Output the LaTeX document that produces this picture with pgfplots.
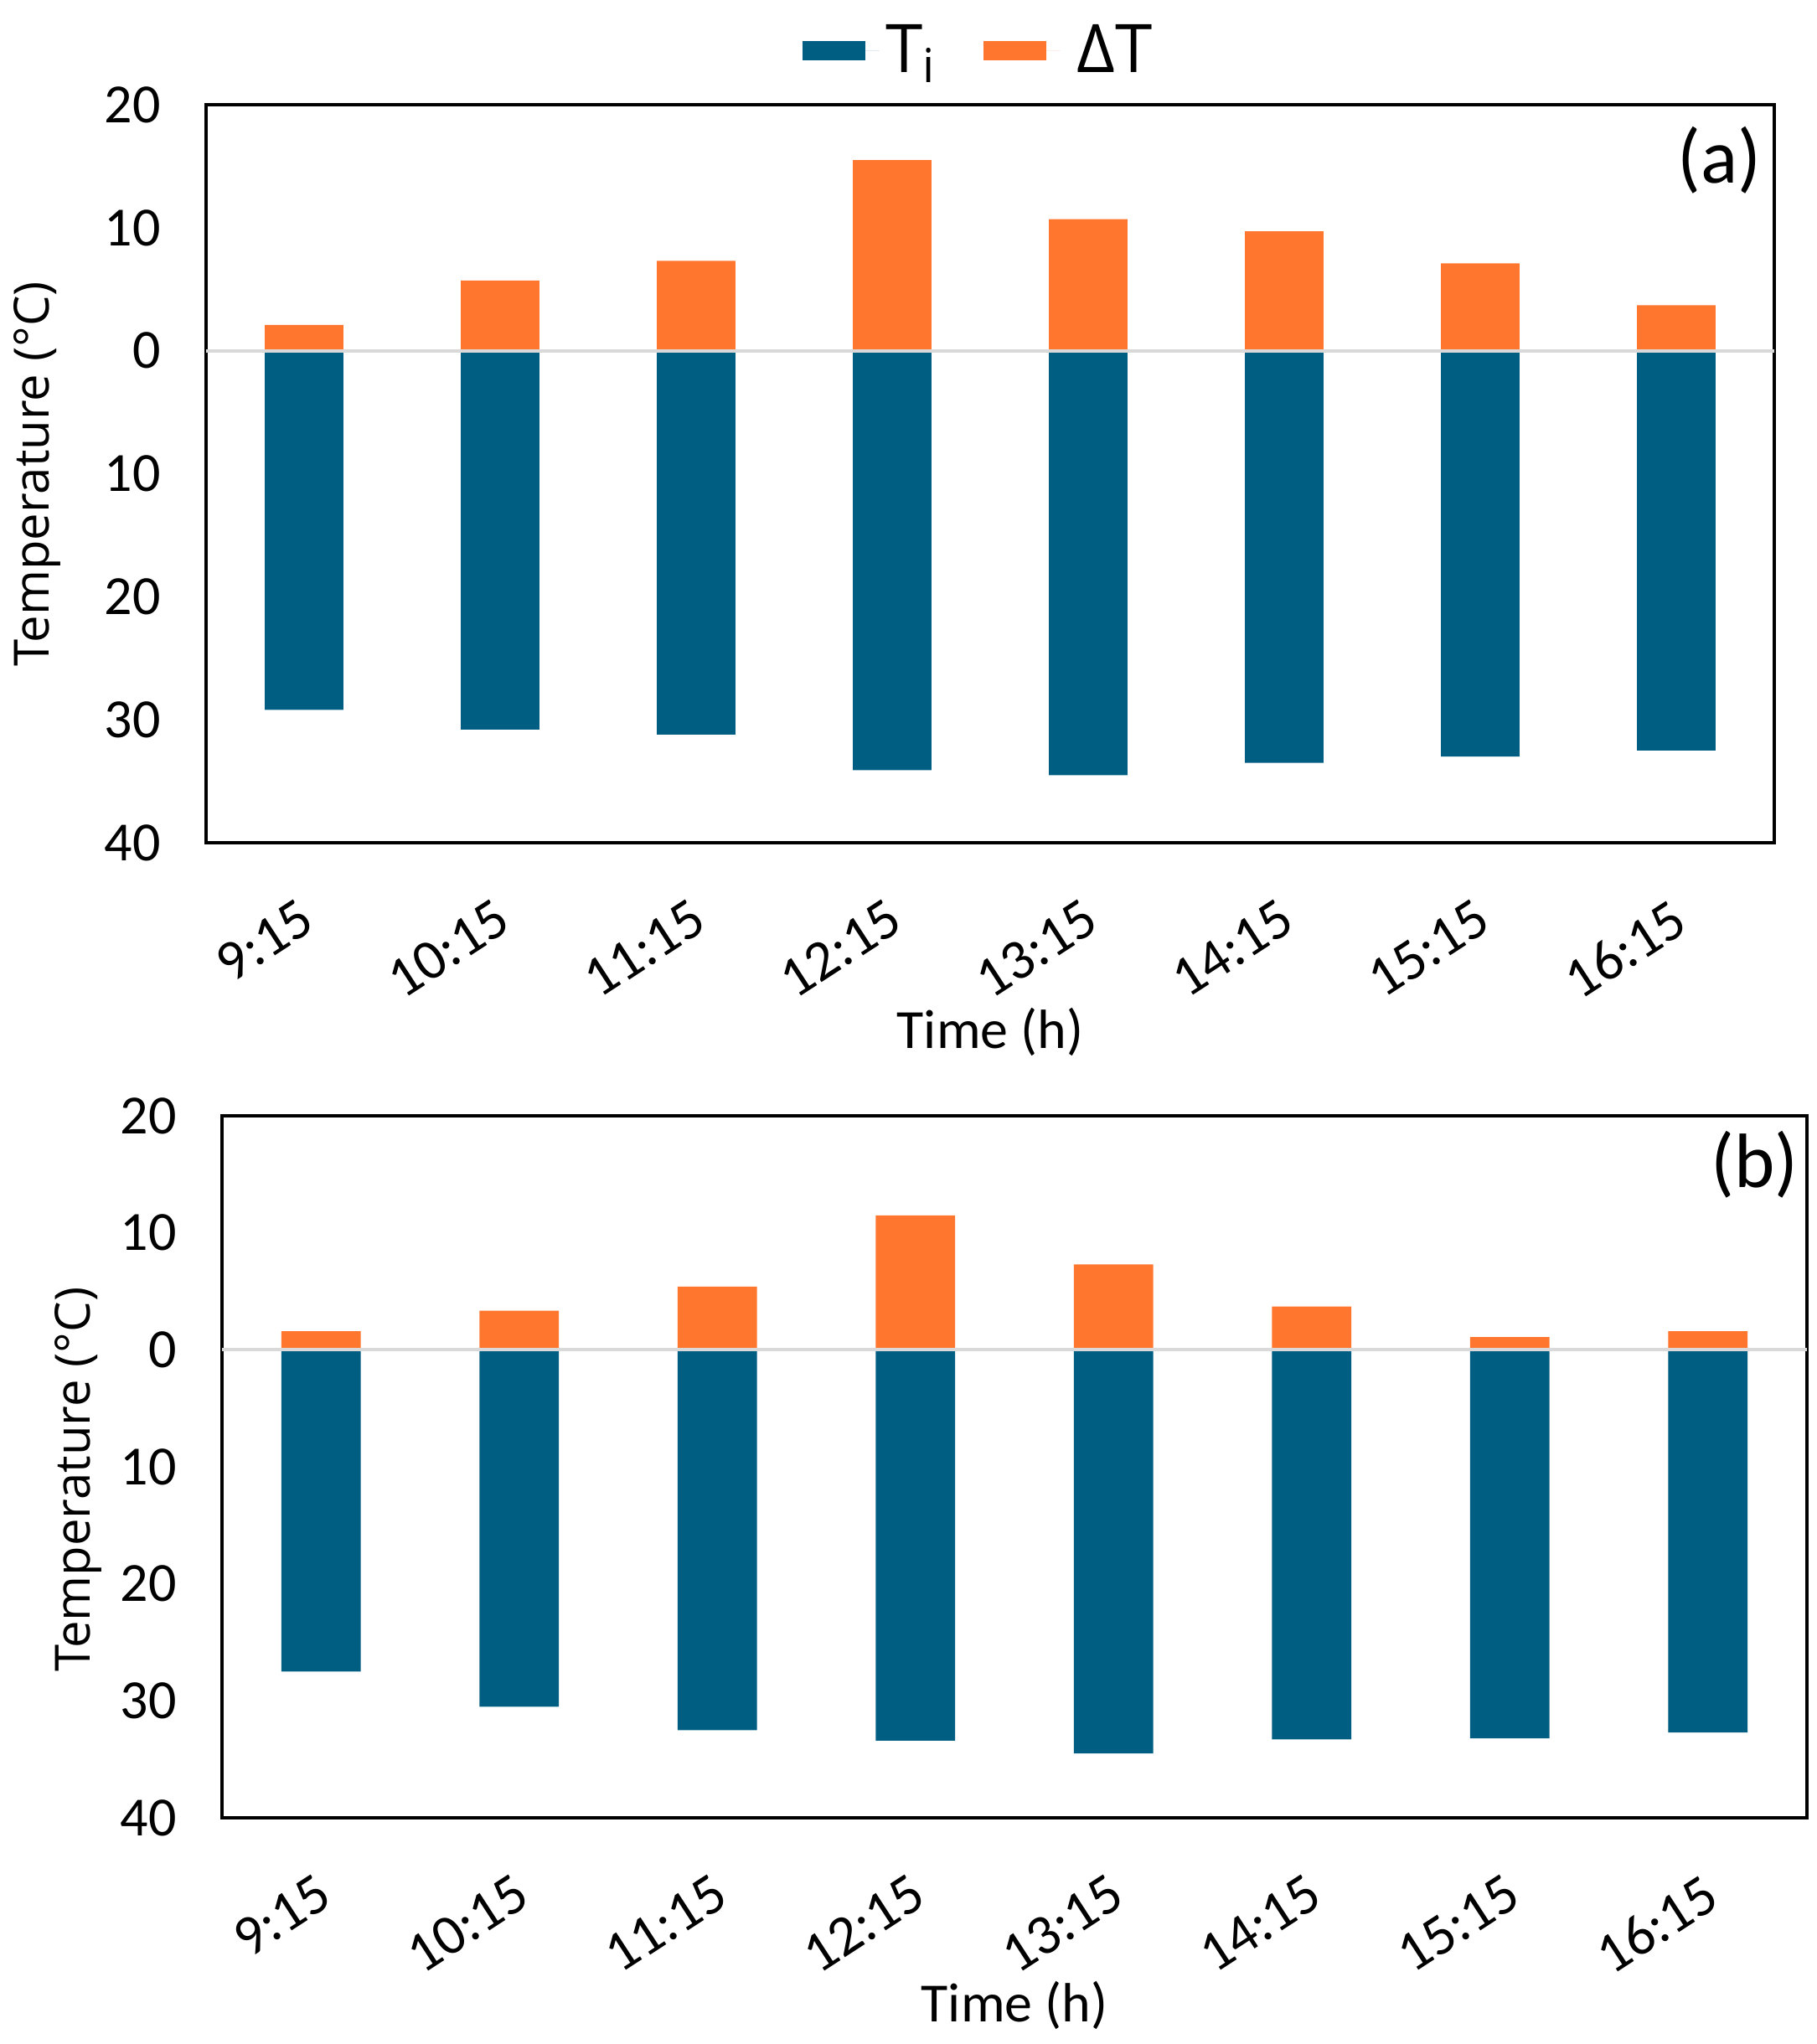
\documentclass[border=0pt]{standalone}
\usepackage{pgfplots}
\pgfplotsset{compat=1.18}
\usepackage{pgfplotstable}
\usepackage{fontspec}
\setmainfont{Carlito}
\newfontfamily\osans{Open Sans}
\definecolor{tiblue}{RGB}{0,94,130}
\definecolor{dtorange}{RGB}{255,118,46}
\definecolor{zeroline}{RGB}{217,217,217}

\pgfplotstableread{
x Ti dT
0 -29.2 2.1
1 -30.8 5.7
2 -31.2 7.3
3 -34.1 15.5
4 -34.5 10.7
5 -33.5 9.7
6 -33.0 7.1
7 -32.5 3.7
}\dataa
\pgfplotstableread{
x Ti dT
0 -27.5 1.6
1 -30.5 3.35
2 -32.5 5.4
3 -33.4 11.5
4 -34.5 7.3
5 -33.3 3.7
6 -33.2 1.1
7 -32.7 1.6
}\datab

\pgfplotsset{
  panel/.style={
    scale only axis,
    anchor=south west,
    xmin=-0.5, xmax=7.5,
    ymin=-40, ymax=20,
    ytick={-40,-30,-20,-10,0,10,20},
    yticklabels={40,30,20,10,0,10,20},
    xtick={0,1,2,3,4,5,6,7},
    xticklabels={9:15,10:15,11:15,12:15,13:15,14:15,15:15,16:15},
    major tick length=0pt,
    axis line style={line width=1pt},
    /pgf/number format/assume math mode=true,
    yticklabel style={font=\fontsize{16.5}{19}\selectfont, xshift=-10pt},
    xticklabel style={font=\fontsize{17}{20}\selectfont, inner sep=0pt, xshift=-2pt, yshift=-16pt, rotate=33, anchor=north east},
    xlabel={Time (h)},
    xlabel style={font=\fontsize{16.5}{19}\selectfont, at={(axis description cs:0.5,0)}, anchor=center},
    ylabel={Temperature (°C)},
    ylabel style={font=\osans\fontsize{14.5}{17}\selectfont, at={(axis description cs:0,0.5)}, anchor=center},
    ybar, bar width=0.4, bar shift=0pt,
    clip=false,
  }
}

\begin{document}
\begin{tikzpicture}
\path[use as bounding box] (0,0) rectangle (542pt,-610pt);

\begin{axis}[panel,
  at={(61.5pt,-251.5pt)},
  width=468pt, height=220.25pt,
  xlabel style={yshift=-56.5pt},
  ylabel style={yshift=50.5pt},
  legend style={at={(axis description cs:0.494,1)}, anchor=south, yshift=4pt, draw=none, fill=none,
     legend columns=2, font=\osans\fontsize{20}{23}\selectfont,
     /tikz/every even column/.append style={column sep=12pt}},
  legend image code/.code={\fill[#1] (0pt,-2.9pt) rectangle (18.75pt,2.9pt); \path (0pt,0pt) -- (23pt,0pt);},
]
\addplot[fill=tiblue, draw=none] table[x=x, y=Ti] {\dataa};
\addlegendentry{T\textsubscript{i}}
\addplot[fill=dtorange, draw=none] table[x=x, y=dT] {\dataa};
\addlegendentry{\hspace{3pt}ΔT}
\addplot[sharp plot, zeroline, line width=1pt, forget plot] coordinates {(-0.5,0) (7.5,0)};
\node[font=\fontsize{23}{27}\selectfont] at (axis description cs:0.965,0.925) {(a)};
\end{axis}

\begin{axis}[panel,
  at={(66.25pt,-542.5pt)},
  width=473pt, height=209.5pt,
  xlabel style={yshift=-56pt},
  ylabel style={yshift=42.85pt, xshift=-3.75pt},
]
\addplot[fill=tiblue, draw=none] table[x=x, y=Ti] {\datab};
\addplot[fill=dtorange, draw=none] table[x=x, y=dT] {\datab};
\addplot[sharp plot, zeroline, line width=1pt, forget plot] coordinates {(-0.5,0) (7.5,0)};
\node[font=\fontsize{23}{27}\selectfont] at (axis description cs:0.967,0.931) {(b)};
\end{axis}
\end{tikzpicture}
\end{document}
